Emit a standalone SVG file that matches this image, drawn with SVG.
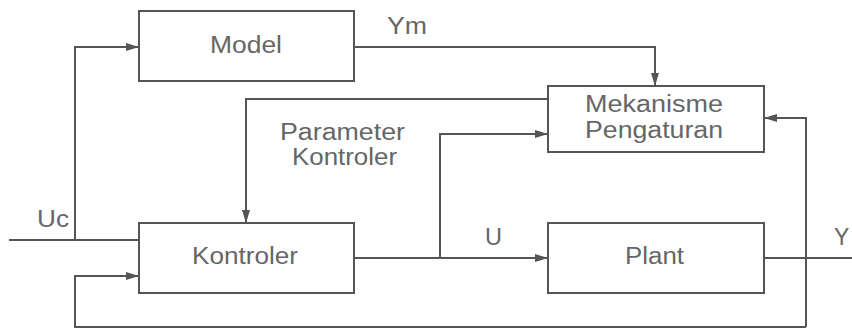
<svg xmlns="http://www.w3.org/2000/svg" width="852" height="329" viewBox="0 0 852 329">
<defs>
<marker id="arr" markerUnits="userSpaceOnUse" markerWidth="14" markerHeight="10" refX="13" refY="5" orient="auto">
<path d="M0,1 L13,5 L0,9 Z" fill="#555"/>
</marker>
<style>
.box{fill:#fff;stroke:#555;stroke-width:2}
.ln{fill:none;stroke:#555;stroke-width:2}
.t{font-family:"Liberation Sans",Arial,sans-serif;font-size:23px;fill:#666}
</style>
</defs>
<rect width="852" height="329" fill="#fff"/>
<g id="connectors">
<path class="ln" d="M9,240 L139,240"/>
<path class="ln" d="M75,240 L75,47 L139,47" marker-end="url(#arr)"/>
<path class="ln" d="M354,47 L655,47 L655,86" marker-end="url(#arr)"/>
<path class="ln" d="M548,99 L246,99 L246,223" marker-end="url(#arr)"/>
<path class="ln" d="M354,258 L548,258" marker-end="url(#arr)"/>
<path class="ln" d="M440,258 L440,134 L548,134" marker-end="url(#arr)"/>
<path class="ln" d="M764,258 L852,258"/>
<path class="ln" d="M806,327 L806,118 L764,118" marker-end="url(#arr)"/>
<path class="ln" d="M806,327 L75,327 L75,276 L139,276" marker-end="url(#arr)"/>
</g>
<g id="model">
<rect class="box" x="139" y="11" width="215" height="70"/>
<text class="t" x="210" y="53" textLength="72" lengthAdjust="spacingAndGlyphs">Model</text>
</g>
<g id="mekanisme">
<rect class="box" x="548" y="86" width="216" height="66"/>
<text class="t" x="585" y="112" textLength="138" lengthAdjust="spacingAndGlyphs">Mekanisme</text>
<text class="t" x="585" y="138" textLength="138" lengthAdjust="spacingAndGlyphs">Pengaturan</text>
</g>
<g id="kontroler">
<rect class="box" x="139" y="223" width="215" height="70"/>
<text class="t" x="192" y="264" textLength="106" lengthAdjust="spacingAndGlyphs">Kontroler</text>
</g>
<g id="plant">
<rect class="box" x="548" y="223" width="216" height="70"/>
<text class="t" x="625" y="264" textLength="59" lengthAdjust="spacingAndGlyphs">Plant</text>
</g>
<g id="labels">
<text class="t" x="387" y="34" textLength="40" lengthAdjust="spacingAndGlyphs">Ym</text>
<text class="t" x="280" y="140" textLength="125" lengthAdjust="spacingAndGlyphs">Parameter</text>
<text class="t" x="292" y="165" textLength="105" lengthAdjust="spacingAndGlyphs">Kontroler</text>
<text class="t" x="37" y="227" textLength="32" lengthAdjust="spacingAndGlyphs">Uc</text>
<text class="t" x="485" y="245" textLength="17" lengthAdjust="spacingAndGlyphs">U</text>
<text class="t" x="834" y="245">Y</text>
</g>
</svg>
